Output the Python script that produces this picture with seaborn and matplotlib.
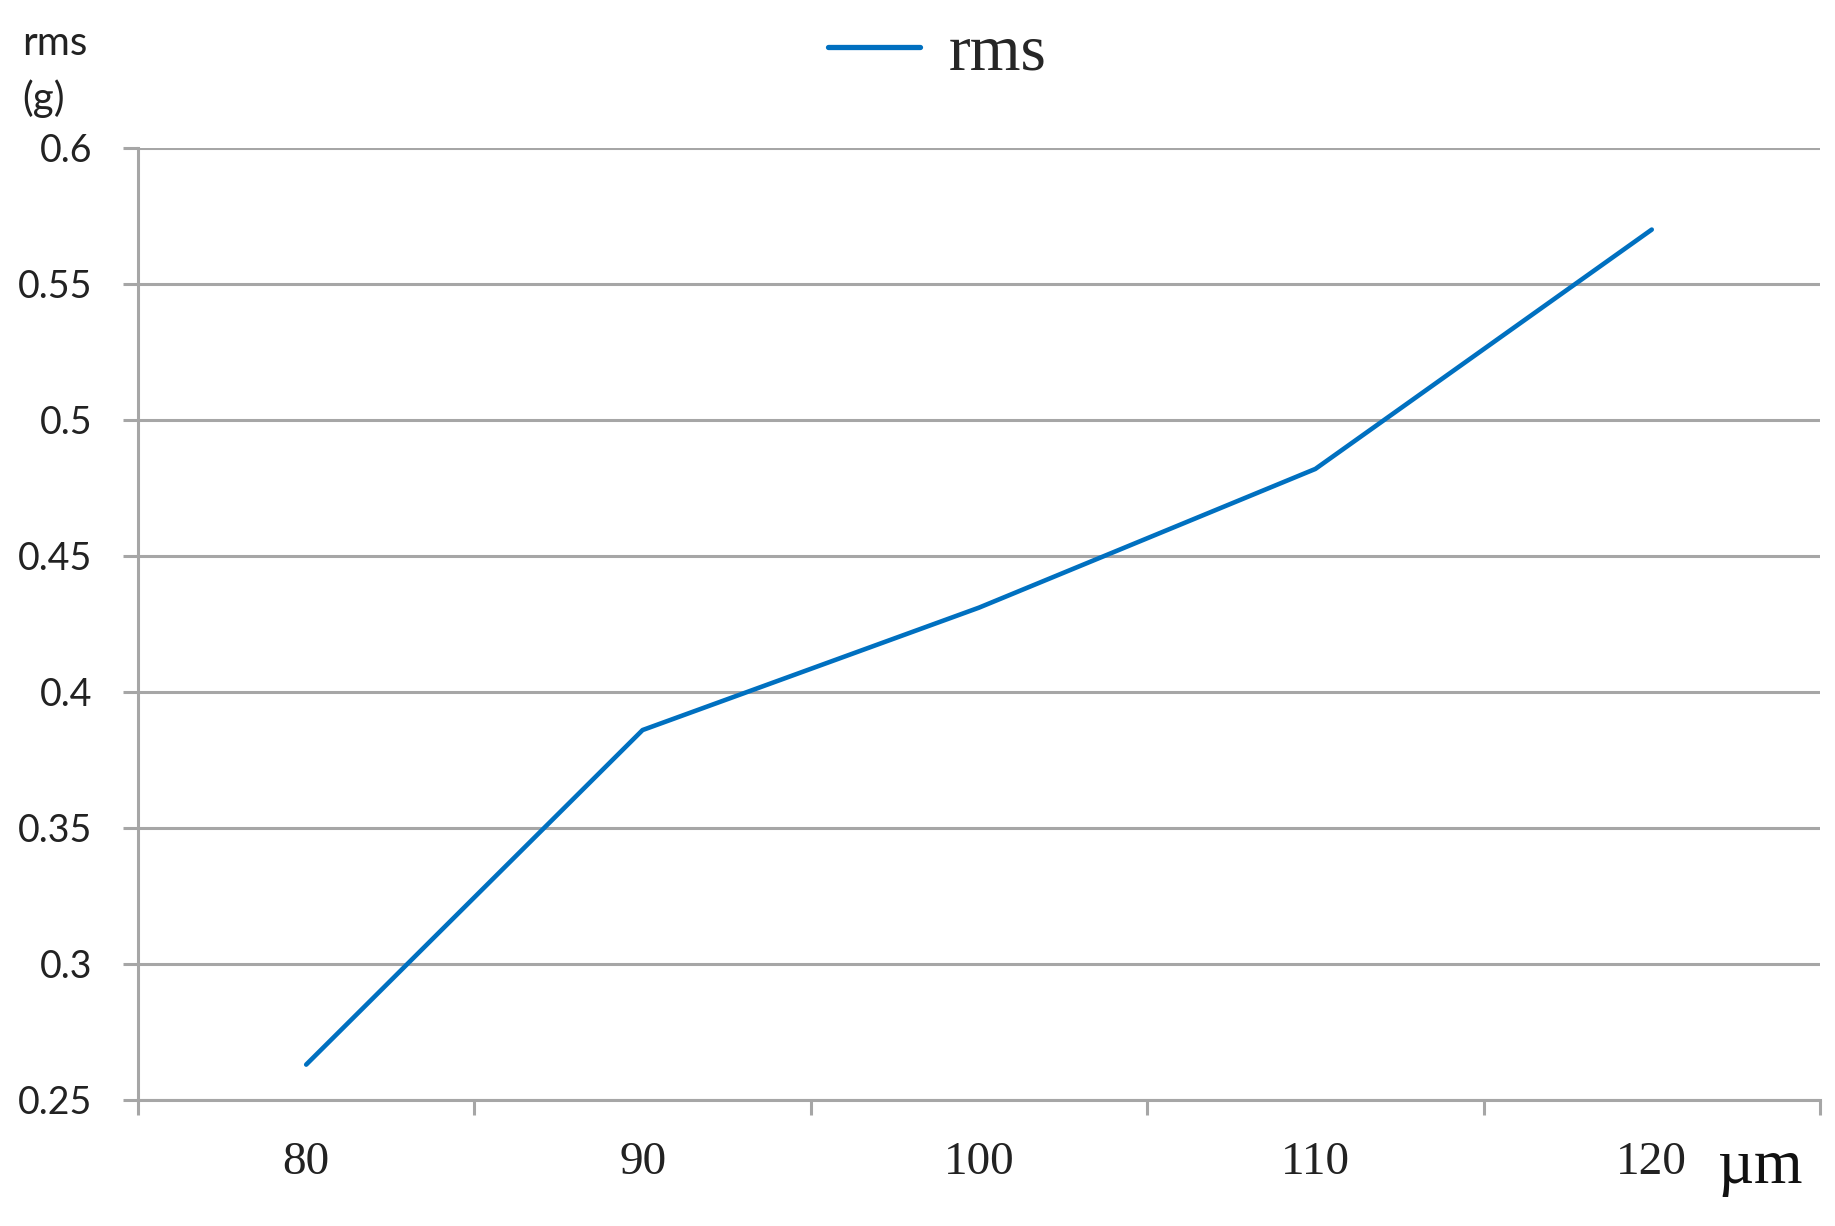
import matplotlib
matplotlib.use("Agg")
import matplotlib.pyplot as plt
import seaborn as sns
import pandas as pd
from matplotlib.ticker import FixedLocator, NullFormatter

# Data
thickness_um = [80, 90, 100, 110, 120]
rms_g = [0.263, 0.386, 0.431, 0.482, 0.570]
y_ticks = [0.25, 0.3, 0.35, 0.4, 0.45, 0.5, 0.55, 0.6]
y_tick_labels = ["0.25", "0.3", "0.35", "0.4", "0.45", "0.5", "0.55", "0.6"]
x_tick_labels = ["80", "90", "100", "110", "120"]
series_name = "rms"

df = pd.DataFrame({"x": thickness_um, "rms": rms_g})

sns.set_theme(style="white")
plt.rcParams["font.family"] = ["Lato", "DejaVu Sans"]

fig = plt.figure(figsize=(18.35, 12.26), dpi=100)
ax = fig.add_axes([0.0752, 0.1028, 0.9166, 0.7765])

grid_col = "#A6A6A6"
line_col = "#0070C0"

sns.lineplot(data=df, x="x", y="rms", ax=ax, color=line_col, linewidth=3.3,
             label=series_name, legend=False)

ax.set_xlim(75, 125)
ax.set_ylim(0.25, 0.6)

# Horizontal gridlines
ax.set_yticks(y_ticks)
ax.set_yticklabels(y_tick_labels)
ax.yaxis.grid(True, color=grid_col, linewidth=2.2)
ax.xaxis.grid(False)
ax.set_axisbelow(True)

# x ticks: labels at category centres, tick marks between categories
ax.set_xticks(thickness_um)
ax.set_xticklabels(x_tick_labels, fontfamily=["Liberation Serif"], fontsize=34)
ax.xaxis.set_minor_locator(FixedLocator([75, 85, 95, 105, 115, 125]))
ax.xaxis.set_minor_formatter(NullFormatter())
ax.tick_params(axis="x", which="major", length=0, pad=30)
ax.tick_params(axis="x", which="minor", length=11, width=2.2, color=grid_col, bottom=True)
ax.tick_params(axis="y", which="major", length=11, width=2.2, color=grid_col,
               labelsize=27, pad=22, left=True, labelcolor="#222222")
ax.tick_params(axis="x", labelcolor="#222222")

for s in ["top", "right"]:
    ax.spines[s].set_visible(False)
for s in ["left", "bottom"]:
    ax.spines[s].set_color(grid_col)
    ax.spines[s].set_linewidth(2.2)

ax.set_xlabel("")
ax.set_ylabel("")

# Axis titles
fig.text(0.012, 0.980, "rms\n(g)", fontsize=29, ha="left", va="top",
         linespacing=1.55, color="#222222")
fig.text(0.959, 0.047, "µm", fontsize=45, ha="center", va="center",
         fontfamily=["Liberation Serif"], color="#111111")

# Legend on top
handles, labels = ax.get_legend_handles_labels()
leg = fig.legend(handles, labels, loc="center", bbox_to_anchor=(0.511, 0.956),
                 frameon=False, prop={"family": "Liberation Serif", "size": 47},
                 handlelength=1.4, handletextpad=0.45)
for h in leg.get_lines():
    h.set_linewidth(3.8)

fig.savefig("out.png", dpi=100, facecolor="white")
